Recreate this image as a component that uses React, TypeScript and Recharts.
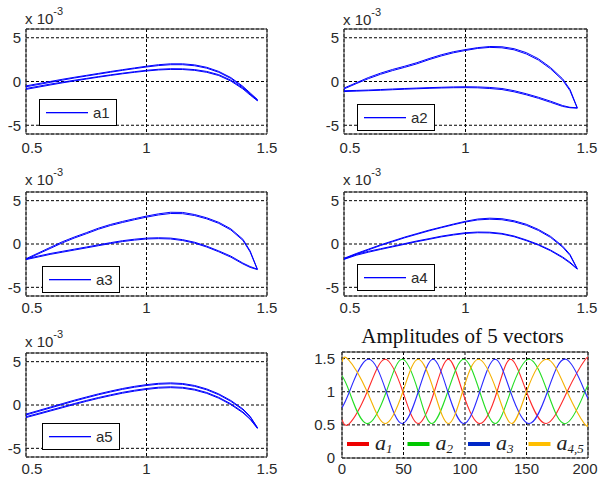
import React from 'react';
import { LineChart, Line, XAxis, YAxis, CartesianGrid, ReferenceArea, Legend } from 'recharts';

// ---------- phase portraits (y in units of 1e-3) ----------
const phaseX = [0.5, 0.55, 0.6, 0.65, 0.7, 0.75, 0.8, 0.85, 0.9, 0.95, 1.0, 1.05, 1.1, 1.15, 1.2, 1.25, 1.3, 1.35, 1.4, 1.43, 1.46];

const a1Upper1 = [-0.50, -0.25, 0.00, 0.25, 0.48, 0.70, 0.92, 1.14, 1.35, 1.55, 1.75, 1.92, 2.02, 2.02, 1.90, 1.62, 1.15, 0.45, -0.55, -1.30, -2.05];
const a1Lower1 = [-0.80, -0.55, -0.30, -0.08, 0.14, 0.35, 0.56, 0.76, 0.95, 1.12, 1.28, 1.40, 1.46, 1.45, 1.36, 1.15, 0.78, 0.15, -0.75, -1.45, -2.15];
const a1Upper2 = [-0.60, -0.35, -0.10, 0.15, 0.40, 0.62, 0.84, 1.06, 1.27, 1.47, 1.66, 1.82, 1.92, 1.92, 1.80, 1.52, 1.05, 0.35, -0.65, -1.40, -2.10];
const a1Lower2 = [-0.90, -0.65, -0.40, -0.16, 0.06, 0.28, 0.49, 0.69, 0.88, 1.05, 1.20, 1.32, 1.38, 1.37, 1.27, 1.05, 0.68, 0.05, -0.85, -1.55, -2.20];

const a2Upper1 = [-0.75, -0.15, 0.45, 0.95, 1.38, 1.75, 2.15, 2.62, 3.05, 3.40, 3.65, 3.87, 4.00, 3.97, 3.75, 3.30, 2.60, 1.60, 0.30, -0.90, -3.00];
const a2Lower1 = [-1.05, -1.02, -0.98, -0.92, -0.86, -0.80, -0.75, -0.70, -0.66, -0.62, -0.60, -0.62, -0.68, -0.80, -1.05, -1.40, -1.80, -2.25, -2.75, -2.95, -3.00];
const a2Upper2 = [-0.85, -0.25, 0.32, 0.82, 1.25, 1.62, 2.02, 2.50, 2.92, 3.28, 3.55, 3.78, 3.90, 3.85, 3.62, 3.15, 2.45, 1.45, 0.15, -1.05, -3.05];
const a2Lower2 = [-1.15, -1.10, -1.05, -1.00, -0.94, -0.88, -0.83, -0.78, -0.74, -0.71, -0.70, -0.72, -0.80, -0.92, -1.18, -1.52, -1.92, -2.38, -2.85, -3.00, -3.05];

const a3Upper1 = [-1.70, -1.05, -0.40, 0.25, 0.80, 1.30, 1.82, 2.25, 2.60, 2.92, 3.22, 3.48, 3.66, 3.64, 3.40, 3.02, 2.50, 1.75, 0.55, -0.80, -2.90];
const a3Lower1 = [-1.72, -1.40, -1.10, -0.85, -0.60, -0.35, -0.10, 0.15, 0.38, 0.55, 0.68, 0.72, 0.68, 0.50, 0.20, -0.25, -0.80, -1.40, -2.20, -2.60, -2.90];
const a3Upper2 = [-1.78, -1.15, -0.52, 0.12, 0.68, 1.18, 1.70, 2.13, 2.48, 2.80, 3.10, 3.35, 3.52, 3.50, 3.28, 2.90, 2.38, 1.62, 0.42, -0.92, -2.95];
const a3Lower2 = [-1.80, -1.50, -1.20, -0.95, -0.70, -0.45, -0.20, 0.05, 0.28, 0.45, 0.58, 0.62, 0.58, 0.40, 0.10, -0.35, -0.90, -1.52, -2.30, -2.70, -2.95];

const a4Upper1 = [-1.65, -1.10, -0.60, -0.10, 0.35, 0.80, 1.20, 1.60, 1.95, 2.30, 2.62, 2.88, 2.98, 2.92, 2.68, 2.28, 1.68, 0.88, -0.25, -1.20, -2.85];
const a4Lower1 = [-1.70, -1.20, -0.85, -0.55, -0.25, 0.05, 0.35, 0.62, 0.90, 1.12, 1.30, 1.38, 1.36, 1.22, 0.92, 0.47, -0.05, -0.70, -1.50, -2.10, -2.85];
const a4Upper2 = [-1.72, -1.18, -0.68, -0.18, 0.27, 0.72, 1.12, 1.52, 1.88, 2.22, 2.54, 2.78, 2.86, 2.80, 2.56, 2.16, 1.56, 0.76, -0.37, -1.32, -2.90];
const a4Lower2 = [-1.78, -1.30, -0.95, -0.63, -0.33, -0.03, 0.27, 0.54, 0.82, 1.04, 1.22, 1.30, 1.28, 1.14, 0.84, 0.39, -0.13, -0.78, -1.60, -2.20, -2.90];

const a5Upper1 = [-1.05, -0.65, -0.25, 0.15, 0.55, 0.92, 1.28, 1.60, 1.90, 2.15, 2.35, 2.50, 2.55, 2.48, 2.25, 1.85, 1.28, 0.52, -0.45, -1.30, -2.60];
const a5Lower1 = [-1.35, -0.98, -0.60, -0.22, 0.16, 0.52, 0.86, 1.17, 1.46, 1.70, 1.90, 2.05, 2.10, 2.04, 1.82, 1.44, 0.88, 0.14, -0.80, -1.58, -2.65];
const a5Upper2 = [-1.15, -0.75, -0.35, 0.05, 0.45, 0.82, 1.18, 1.50, 1.80, 2.05, 2.25, 2.40, 2.45, 2.38, 2.15, 1.75, 1.18, 0.42, -0.55, -1.38, -2.62];
const a5Lower2 = [-1.45, -1.08, -0.70, -0.32, 0.06, 0.42, 0.76, 1.07, 1.36, 1.60, 1.80, 1.95, 2.00, 1.94, 1.72, 1.34, 0.78, 0.04, -0.90, -1.65, -2.70];

const phaseXTicks = [0.5, 1, 1.5];
const phaseYTicks = [-5, 0, 5];
const seriesNames = ['a1', 'a2', 'a3', 'a4', 'a5'];

// ---------- amplitudes of 5 vectors ----------
const ampRedX = [0, 6, 20.5, 35, 49.5, 62, 75, 86.5, 98, 112, 126, 137, 150, 166, 183, 197.5, 200];
const ampRedY = [0.58, 0.52, 1, 1.49, 1, 0.52, 1, 1.49, 1, 0.52, 1, 1.49, 1, 0.52, 1, 1.48, 1.47];
const ampGreenX = [0, 6, 20, 36, 49, 62, 73, 86, 99, 112, 124.5, 137, 152, 167, 182, 197.5, 200];
const ampGreenY = [1.24, 1, 0.52, 1, 1.49, 1, 0.52, 1, 1.49, 1, 0.52, 1, 1.49, 1, 0.52, 1, 1.07];
const ampBlueX = [0, 6, 21, 36, 49, 62, 74, 86, 99, 112, 124.5, 137, 152, 167, 182, 197.5, 200];
const ampBlueY = [0.76, 1, 1.49, 1, 0.52, 1, 1.49, 1, 0.52, 1, 1.49, 1, 0.52, 1, 1.49, 1, 0.93];
const ampOrangeX = [0, 5, 20.5, 35, 49.5, 62, 75, 86.5, 98, 111, 126, 138, 150, 166.5, 183, 197, 200];
const ampOrangeY = [1.45, 1.49, 1, 0.52, 1, 1.49, 1, 0.52, 1, 1.49, 1, 0.52, 1, 1.49, 1, 0.52, 0.53];

const ampXTicks = [0, 50, 100, 150, 200];
const ampYTicks = [0, 0.5, 1, 1.5];
const ampLabelBase = ['a', 'a', 'a', 'a'];
const ampLabelSub = ['1', '2', '3', '4,5'];
const ampCurveColors = ['#ff2a2a', '#22dd22', '#2a2aff', '#f5b000'];
const ampLegendColors = ['#ee0000', '#00c800', '#0028c8', '#ffbe00'];
const ampTitle = 'Amplitudes of 5 vectors';

// ---------- helpers ----------
function buildLoop(xs: number[], u1: number[], l1: number[], u2: number[], l2: number[]) {
  const pts: { x: number; y: number }[] = [];
  xs.forEach((x, i) => pts.push({ x, y: u1[i] }));
  for (let i = xs.length - 1; i >= 0; i--) pts.push({ x: xs[i], y: l1[i] });
  xs.forEach((x, i) => pts.push({ x, y: u2[i] }));
  for (let i = xs.length - 1; i >= 0; i--) pts.push({ x: xs[i], y: l2[i] });
  return pts;
}
function pairs(xs: number[], ys: number[]) {
  return xs.map((x, i) => ({ x, y: ys[i] }));
}

const phaseData = [
  buildLoop(phaseX, a1Upper1, a1Lower1, a1Upper2, a1Lower2),
  buildLoop(phaseX, a2Upper1, a2Lower1, a2Upper2, a2Lower2),
  buildLoop(phaseX, a3Upper1, a3Lower1, a3Upper2, a3Lower2),
  buildLoop(phaseX, a4Upper1, a4Lower1, a4Upper2, a4Lower2),
  buildLoop(phaseX, a5Upper1, a5Lower1, a5Upper2, a5Lower2),
];
const ampData = [
  pairs(ampRedX, ampRedY),
  pairs(ampGreenX, ampGreenY),
  pairs(ampBlueX, ampBlueY),
  pairs(ampOrangeX, ampOrangeY),
];

const FONT = '"Liberation Sans", Arial, sans-serif';
const SERIF = '"Liberation Serif", "Times New Roman", serif';
const TEXT = '#2a2a2a';
const TICK_FS = 15;

const phaseLayout = [
  { left: 0, top: 0, width: 300, height: 160, pl: 26, pr: 267, pt: 29, pb: 134, lgL: 39, lgT: 99, gap: 8, expGap: 5 },
  { left: 300, top: 0, width: 299, height: 160, pl: 344, pr: 587, pt: 29, pb: 134, lgL: 57, lgT: 104, gap: 8, expGap: 4 },
  { left: 0, top: 160, width: 300, height: 162, pl: 26, pr: 267, pt: 192, pb: 296, lgL: 42, lgT: 106, gap: 6, expGap: 7 },
  { left: 300, top: 160, width: 299, height: 162, pl: 344, pr: 587, pt: 192, pb: 296, lgL: 57, lgT: 104, gap: 6, expGap: 7 },
  { left: 0, top: 320, width: 300, height: 161, pl: 26, pr: 267, pt: 353, pb: 457, lgL: 42, lgT: 103, gap: 6, expGap: 6 },
];

const PhaseXTick = (props: any) => {
  const { x, y, payload } = props;
  const shift = payload.value === 0.5 ? 6 : 0;
  return (
    <text x={x + shift} y={y} dy="0.71em" textAnchor="middle" fill={TEXT} fontSize={TICK_FS} fontFamily={FONT}>
      {payload.value}
    </text>
  );
};

const AmpXTick = (props: any) => {
  const { x, y, payload } = props;
  const shift = payload.value === 200 ? -3 : 0;
  return (
    <text x={x + shift} y={y} dy="0.71em" textAnchor="middle" fill={TEXT} fontSize={TICK_FS} fontFamily={FONT}>
      {payload.value}
    </text>
  );
};

const PhaseLegendBox = ({ label }: { label: string }) => (
  <svg width={78} height={27} style={{ display: 'block' }}>
    <rect x={0.5} y={0.5} width={77} height={26} fill="#ffffff" stroke="#000000" />
    <rect x={7} y={13} width={42} height={1.3} fill="#0000ff" />
    <text x={54} y={18.5} fontSize={15} fill={TEXT} fontFamily={FONT}>{label}</text>
  </svg>
);

function PhasePanel({ idx }: { idx: number }) {
  const c = phaseLayout[idx];
  const name = seriesNames[idx];
  return (
    <div style={{ position: 'absolute', left: c.left, top: c.top, width: c.width, height: c.height }}>
      <LineChart
        width={c.width}
        height={c.height}
        margin={{ top: c.pt - c.top, right: c.left + c.width - c.pr, bottom: 0, left: 0 }}
      >
        <CartesianGrid stroke="#000" strokeDasharray="3 2" />
        <XAxis
          dataKey="x"
          type="number"
          domain={[0.5, 1.5]}
          ticks={phaseXTicks}
          interval={0}
          allowDataOverflow
          axisLine={false}
          tickLine={false}
          tickSize={c.gap - 2}
          tickMargin={2}
          height={c.top + c.height - c.pb}
          tick={(p: any) => <PhaseXTick {...p} />}
        />
        <YAxis
          type="number"
          domain={[-6, 6]}
          ticks={phaseYTicks}
          interval={0}
          allowDataOverflow
          axisLine={false}
          tickLine={false}
          tickSize={3}
          tickMargin={2}
          width={c.pl - c.left}
          tick={{ fontSize: TICK_FS, fill: TEXT, fontFamily: FONT }}
        />
        <Line
          data={phaseData[idx]}
          dataKey="y"
          name={name}
          type="linear"
          stroke="#0000ff"
          strokeWidth={1}
          dot={false}
          isAnimationActive={false}
        />
        <ReferenceArea x1={0.5} x2={1.5} y1={-6} y2={6} fill="none" stroke="#333" strokeWidth={1} />
        <Legend
          layout="vertical"
          align="center"
          verticalAlign="middle"
          wrapperStyle={{ left: c.lgL, top: c.lgT, width: 78, height: 27 }}
          content={() => <PhaseLegendBox label={name} />}
        />
      </LineChart>
    </div>
  );
}

const AmpLegend = () => (
  <svg width={246} height={28} style={{ display: 'block', overflow: 'visible' }}>
    {ampLabelSub.map((sub, i) => {
      const x0 = 5 + i * 60.5;
      return (
        <g key={sub}>
          <line x1={x0} x2={x0 + 22} y1={11} y2={11} stroke={ampLegendColors[i]} strokeWidth={4} />
          <text x={x0 + 28} y={17} fontFamily={SERIF} fontStyle="italic" fontSize={22} fill="#222">
            {ampLabelBase[i]}
            <tspan fontSize={13} dy={3}>{sub}</tspan>
          </text>
        </g>
      );
    })}
  </svg>
);

function AmpPanel() {
  const left = 300, top = 320, width = 299, height = 161;
  const pl = 342, pr = 588, pt = 352, pb = 458;
  return (
    <div style={{ position: 'absolute', left, top, width, height }}>
      <LineChart width={width} height={height} margin={{ top: pt - top, right: left + width - pr, bottom: 0, left: 0 }}>
        <CartesianGrid stroke="#000" strokeDasharray="3 2" />
        <XAxis
          dataKey="x"
          type="number"
          domain={[0, 200]}
          ticks={ampXTicks}
          interval={0}
          allowDataOverflow
          axisLine={false}
          tickLine={false}
          tickSize={3}
          tickMargin={2}
          height={top + height - pb}
          tick={(p: any) => <AmpXTick {...p} />}
        />
        <YAxis
          type="number"
          domain={[0, 1.6]}
          ticks={ampYTicks}
          interval={0}
          allowDataOverflow
          axisLine={false}
          tickLine={false}
          tickSize={5}
          tickMargin={2}
          width={pl - left}
          tick={{ fontSize: TICK_FS, fill: TEXT, fontFamily: FONT }}
        />
        {ampData.map((d, i) => (
          <Line
            key={ampLabelSub[i]}
            data={d}
            dataKey="y"
            name={ampLabelBase[i] + ampLabelSub[i]}
            type="natural"
            stroke={ampCurveColors[i]}
            strokeWidth={1.1}
            dot={false}
            isAnimationActive={false}
          />
        ))}
        <ReferenceArea x1={0} x2={200} y1={0} y2={1.6} fill="none" stroke="#333" strokeWidth={1} />
        <Legend
          layout="vertical"
          align="center"
          verticalAlign="middle"
          wrapperStyle={{ left: pl - left, top: 113, width: 246, height: 28 }}
          content={() => <AmpLegend />}
        />
      </LineChart>
    </div>
  );
}

export default function App() {
  return (
    <div
      style={{
        position: 'absolute',
        left: 0,
        top: 0,
        width: 599,
        height: 481,
        background: '#fff',
        overflow: 'hidden',
        fontFamily: FONT,
      }}
    >
      {phaseLayout.map((_, i) => (
        <PhasePanel key={i} idx={i} />
      ))}
      <AmpPanel />
      <svg width={599} height={481} style={{ position: 'absolute', left: 0, top: 0, pointerEvents: 'none' }}>
        {phaseLayout.map((c, i) => (
          <text key={i} x={c.pl - 1} y={c.pt - c.expGap} fontSize={15} fill={TEXT} fontFamily={FONT}>
            x 10
            <tspan fontSize={11} dy={-9}>-3</tspan>
          </text>
        ))}
        <text x={462.5} y={343} textAnchor="middle" fontFamily={SERIF} fontSize={21} fill="#111">
          {ampTitle}
        </text>
      </svg>
    </div>
  );
}
